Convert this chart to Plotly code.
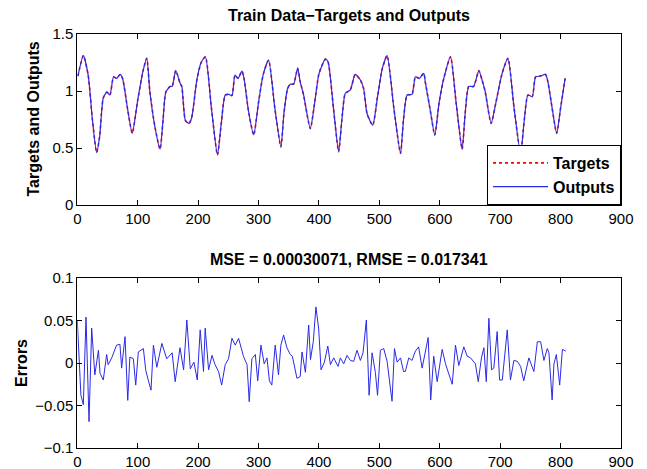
import plotly.graph_objects as go

# ---- Top panel: targets / outputs ----
t_x = [1, 10, 18, 25, 32, 37, 43, 49, 54, 60, 65, 71, 75, 83, 91, 100, 109, 115, 120, 128,
       137, 142, 146.5, 153.6, 157, 163, 170, 173, 179, 185, 189.5, 198, 205, 212, 222, 232,
       238, 245, 251, 256, 261, 266, 272.5, 276, 283.5, 292, 300, 308, 316.6, 327, 337, 342,
       348, 352.5, 358, 364.7, 369, 374.6, 385.7, 393, 400, 410.6, 415, 424, 432.6, 438,
       443.7, 452, 460, 468.6, 474, 479.7, 489, 497, 505, 512.8, 524, 535, 540, 546, 554,
       559.7, 566, 573.5, 576, 584.6, 591.7, 599, 606.7, 617.8, 627, 637, 642, 648, 656,
       664.7, 670, 675, 685, 693, 703, 712.8, 723, 733.8, 740, 746, 753, 758.7, 766, 775,
       779, 786, 793.5, 800, 807.5]
targets = [1.13, 1.31, 1.14, 0.75, 0.46, 0.6, 0.94, 0.99, 0.965, 1.125, 1.11, 1.146, 1.11, 0.85,
           0.63, 0.92, 1.18, 1.287, 1.0, 0.7, 0.49, 0.75, 0.99, 1.04, 1.04, 1.18, 1.07, 1.04,
           0.74, 0.716, 0.77, 1.1, 1.25, 1.30, 0.85, 0.44, 0.7, 0.965, 0.97, 0.96, 1.14, 1.11,
           1.175, 1.11, 0.82, 0.614, 0.9, 1.15, 1.27, 0.85, 0.51, 0.8, 1.02, 1.06, 1.06, 1.20,
           1.08, 0.965, 0.67, 0.9, 1.15, 1.28, 1.257, 0.85, 0.468, 0.75, 0.98, 1.01, 1.146,
           1.096, 1.02, 0.80, 0.70, 0.95, 1.2, 1.31, 0.85, 0.453, 0.75, 0.965, 0.97, 1.125,
           1.11, 1.155, 1.08, 0.82, 0.614, 0.9, 1.11, 1.30, 0.9, 0.49, 0.8, 1.04, 1.04, 1.18,
           1.096, 1.0, 0.716, 0.9, 1.15, 1.287, 0.85, 0.453, 0.75, 0.965, 0.95, 1.125, 1.13,
           1.146, 1.08, 0.85, 0.63, 0.85, 1.11]
outputs = list(targets)

# ---- Bottom panel: errors ----
e_x = [0, 6, 10, 14.4, 19.4, 23.8, 29, 35, 37.6, 43, 48.6, 51, 57, 65, 70.6, 73.4, 79, 83.5, 87,
       92.8, 96.7, 101, 109.4, 113.4, 117.8, 122, 126, 131.6, 140, 148, 157, 162, 170, 176,
       181.3, 187, 193, 198.6, 203.4, 208.9, 211.7, 217.3, 223, 228, 233.8, 239, 244.8, 250.3,
       256, 261.4, 267, 275, 281, 284.6, 289, 294.7, 298.6, 304, 309.4, 314, 318, 322, 327.6,
       333, 337, 341.5, 347, 352.5, 356, 363.6, 369, 372, 377.6, 383, 386, 390.6, 395, 399.6,
       403.5, 409, 414.7, 419, 424.4, 431.7, 435.4, 441, 446.5, 452, 457.5, 463, 468.6, 473,
       478.5, 483, 488, 493.4, 497, 501.7, 507.2, 512.8, 521, 525, 529.4, 535, 540, 543, 548.7,
       554, 559.7, 565, 570.8, 575, 580.8, 585, 590, 595.7, 604, 609.5, 617.8, 620.6, 626,
       631.5, 639.8, 645.4, 651, 659, 663.7, 669, 673, 677, 681.3, 685.7, 689.5, 695, 699,
       703.5, 711.7, 717, 722.7, 728.3, 733.8, 739, 743, 747.5, 755.8, 761.5, 767, 772.4, 778,
       780.7, 786, 789, 793, 798.5, 803, 808.5]
errors = [0.05, -0.038, -0.049, 0.054, -0.069, 0.041, -0.014, 0.015, -0.012, -0.020, 0.010,
          -0.002, 0.006, 0.021, 0.022, -0.006, 0.031, -0.044, 0.007, 0.005, -0.026, 0.013,
          0.017, -0.009, -0.021, -0.032, 0.021, -0.005, 0.023, 0.005, 0.012, -0.022, 0.018,
          -0.008, 0.0506, -0.007, 0.001, -0.02, 0.039, -0.010, 0.041, -0.008, 0.009, -0.002,
          -0.010, -0.026, -0.002, 0.005, 0.029, 0.021, 0.029, 0.008, -0.002, -0.0455, 0.005,
          0.010, -0.021, 0.021, -0.001, 0.006, -0.021, -0.026, 0.021, -0.014, 0.021, 0.033,
          0.018, 0.010, 0.008, -0.018, -0.016, 0.013, -0.011, 0.0447, 0.004, 0.025, 0.066,
          0.040, -0.008, 0.001, 0.020, -0.002, 0.006, -0.004, 0.006, -0.001, 0.009, 0.003,
          0.002, 0.015, 0.003, 0.012, 0.0506, -0.038, 0.012, -0.011, -0.038, 0.015, 0.017,
          0.002, -0.045, 0.017, 0.001, 0.006, -0.010, -0.010, 0.006, 0.003, 0.014, 0.019,
          -0.006, 0.010, 0.030, -0.0435, 0.008, -0.022, 0.016, -0.001, -0.021, -0.025, 0.021,
          -0.003, 0.019, 0.008, 0.006, -0.001, -0.022, 0.006, 0.018, -0.022, 0.0526, -0.008,
          -0.006, 0.037, -0.020, -0.020, 0.039, -0.020, 0.003, 0.002, -0.004, -0.021, -0.008,
          0.006, -0.010, 0.025, 0.025, 0.003, 0.017, 0.012, -0.0435, -0.001, 0.010, -0.026,
          0.016, 0.014]

top_title = "Train Data\u2212Targets and Outputs"
bottom_title = "MSE = 0.00030071, RMSE = 0.017341"
top_ylabel = "Targets and Outputs"
bot_ylabel = "Errors"
x_ticks = [0, 100, 200, 300, 400, 500, 600, 700, 800, 900]
top_y_ticks = [0, 0.5, 1, 1.5]
top_y_labels = ["0", "0.5", "1", "1.5"]
bot_y_ticks = [-0.1, -0.05, 0, 0.05, 0.1]
bot_y_labels = ["\u22120.1", "\u22120.05", "0", "0.05", "0.1"]

W, H = 647, 469
FONT = "Liberation Sans, Arial, sans-serif"
BLUE = "#2a2ae6"

fig = go.Figure()
fig.add_trace(go.Scatter(x=t_x, y=targets, mode="lines", name="<b>Targets</b>",
                         line=dict(color="red", width=1.6, dash="dot", shape="spline", smoothing=0.6),
                         xaxis="x", yaxis="y"))
fig.add_trace(go.Scatter(x=t_x, y=outputs, mode="lines", name="<b>Outputs</b>",
                         line=dict(color=BLUE, width=1.2, shape="spline", smoothing=0.6),
                         xaxis="x", yaxis="y"))
fig.add_trace(go.Scatter(x=e_x, y=errors, mode="lines", showlegend=False,
                         line=dict(color=BLUE, width=1),
                         xaxis="x2", yaxis="y2"))

xdom = [77.3 / W, 621 / W]
top_dom = [1 - 205 / H, 1 - 34 / H]
bot_dom = [1 - 448 / H, 1 - 278 / H]
axis_common = dict(showline=True, linecolor="black", linewidth=1, mirror="ticks",
                   ticks="inside", ticklen=5, tickcolor="black", showgrid=False,
                   zeroline=False, automargin=False,
                   tickfont=dict(family=FONT, size=15, color="black"))

fig.update_layout(
    width=W, height=H, margin=dict(l=0, r=0, t=0, b=0),
    paper_bgcolor="white", plot_bgcolor="white",
    font=dict(family=FONT, color="black"),
    xaxis=dict(domain=xdom, range=[0, 900], tickvals=x_ticks, anchor="y", **axis_common),
    yaxis=dict(domain=top_dom, range=[0, 1.5], tickvals=top_y_ticks,
               ticktext=top_y_labels, anchor="x", **axis_common),
    xaxis2=dict(domain=xdom, range=[0, 900], tickvals=x_ticks, anchor="y2", **axis_common),
    yaxis2=dict(domain=bot_dom, range=[-0.1, 0.1], tickvals=bot_y_ticks,
                ticktext=bot_y_labels, anchor="x2", **axis_common),
    legend=dict(x=xdom[1], y=top_dom[0], xref="paper", yref="paper",
                xanchor="right", yanchor="bottom",
                bgcolor="white", bordercolor="black", borderwidth=1,
                font=dict(family=FONT, size=16, color="black"),
                itemwidth=55, tracegroupgap=0),
    annotations=[
        dict(text="<b>" + top_title + "</b>", x=(xdom[0] + xdom[1]) / 2, y=1 - 16 / H,
             xref="paper", yref="paper", showarrow=False, yanchor="middle",
             font=dict(family=FONT, size=16)),
        dict(text="<b>" + bottom_title + "</b>", x=(xdom[0] + xdom[1]) / 2, y=1 - 259 / H,
             xref="paper", yref="paper", showarrow=False, yanchor="middle",
             font=dict(family=FONT, size=16)),
        dict(text="<b>" + top_ylabel + "</b>", x=33 / W, y=(top_dom[0] + top_dom[1]) / 2,
             xref="paper", yref="paper", showarrow=False, textangle=-90,
             xanchor="center", yanchor="middle", font=dict(family=FONT, size=16)),
        dict(text="<b>" + bot_ylabel + "</b>", x=21 / W, y=(bot_dom[0] + bot_dom[1]) / 2,
             xref="paper", yref="paper", showarrow=False, textangle=-90,
             xanchor="center", yanchor="middle", font=dict(family=FONT, size=16)),
    ],
)

fig.write_html("out.html", config={"displayModeBar": False},
               post_script="document.body.style.margin='0';document.body.style.overflow='hidden';")
